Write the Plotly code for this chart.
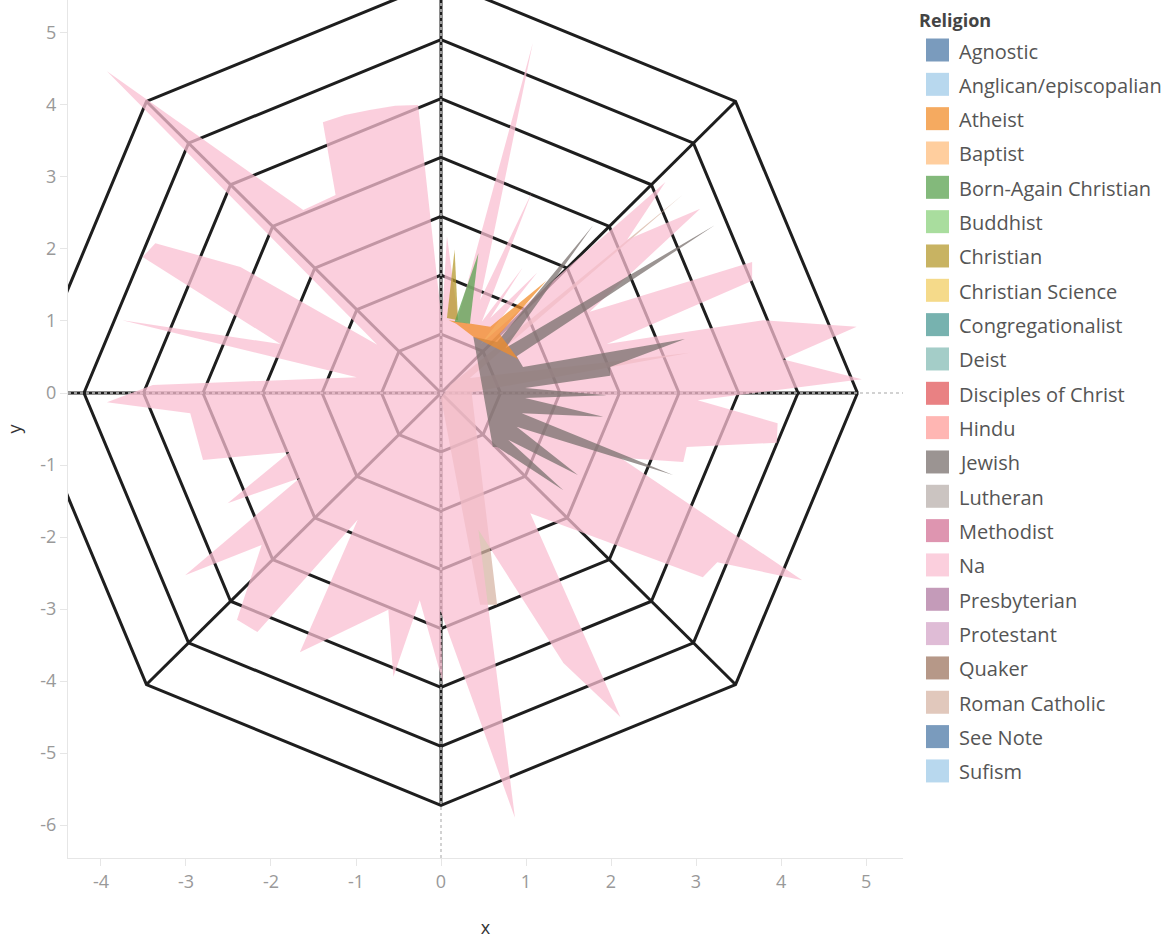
import math
import plotly.graph_objects as go

# ---------------- categories / colours (legend) ----------------
religions = ["Agnostic", "Anglican/episcopalian", "Atheist", "Baptist",
             "Born-Again Christian", "Buddhist", "Christian", "Christian Science",
             "Congregationalist", "Deist", "Disciples of Christ", "Hindu", "Jewish",
             "Lutheran", "Methodist", "Na", "Presbyterian", "Protestant", "Quaker",
             "Roman Catholic", "See Note", "Sufism"]
palette = ["#4E79A7", "#A0CBE8", "#F28E2B", "#FFBE7D", "#59A14F", "#8CD17D",
           "#B6992D", "#F1CE63", "#499894", "#86BCB6", "#E15759", "#FF9D9A",
           "#79706E", "#BAB0AC", "#D37295", "#FABFD2", "#B07AA1", "#D4A6C8",
           "#9D7660", "#D7B5A6", "#4E79A7", "#A0CBE8"]

# ---------------- polygon data (x, y values) ----------------
na_x = [4.95, 4.02, 4.89, 3.79, 1.95, 3.66, 3.66, 1.75, 3.05, 2.19, 2.64, 0.46, 1.13,
        0.58, 0.96, 0.48, 1.07, 0.46, 1.08, 0.20, 0.07, 0.01, -0.27, -0.54, -0.84,
        -1.13, -1.39, -1.24, -1.62, -3.93, -0.75, -2.36, -3.36, -3.51, -1.89, -3.75,
        -0.99, -3.39, -3.93, -2.95, -2.80, -1.78, -2.51, -1.66, -3.01, -2.11, -2.40,
        -2.16, -0.98, -1.66, -0.62, -0.56, -0.25, 0.02, -0.01, 0.87, 0.44, 1.44, 2.11,
        1.05, 3.08, 3.25, 4.25, 2.11, 2.85, 2.89, 3.95, 3.96, 3.02]
na_y = [0.19, 0.47, 0.92, 1.01, 0.68, 1.56, 1.82, 1.13, 2.56, 2.13, 2.93, 0.67, 1.67,
        1.04, 1.74, 0.99, 2.79, 1.29, 4.86, 1.04, 2.18, 0.99, 4.00, 3.99, 3.93,
        3.86, 3.76, 2.75, 2.54, 4.47, 0.67, 1.75, 2.08, 1.89, 0.68, 1.01,
        0.22, 0.11, -0.13, -0.28, -0.93, -0.82, -1.53, -1.18, -2.53, -2.11, -3.15,
        -3.32, -1.76, -3.60, -3.01, -3.94, -2.88, -4.01, -3.01, -5.90, -1.90, -3.75, -4.50,
        -1.67, -2.56, -2.35, -2.60, -0.90, -0.96, -0.75, -0.69, -0.42, -0.10]

jewish_x = [0.38, 0.66, 1.79, 0.76, 3.22, 0.89, 0.965, 2.87, 1.99, 1.99, 0.99, 1.95,
            0.99, 1.91, 0.95, 2.73, 0.89, 1.61, 0.79, 1.44, 0.66, 0.61]
jewish_y = [0.78, 0.71, 2.33, 0.625, 2.33, 0.51, 0.36, 0.75, 0.36, 0.24, 0.07, -0.03,
            -0.07, -0.33, -0.28, -1.14, -0.47, -1.14, -0.65, -1.35, -0.75, -0.75]

atheist_x = [0.09, 0.58, 1.24, 0.69, 0.91, 0.38, 0.18]
atheist_y = [1.01, 0.92, 1.56, 0.82, 0.47, 0.78, 0.96]

born_again_x = [0.16, 0.44, 0.34]
born_again_y = [0.99, 1.94, 0.96]

christian_x = [0.07, 0.16, 0.20]
christian_y = [1.04, 1.99, 1.01]

catholic_x = [0.11, 2.84, 0.34, 2.93, 0.36, 0.66, 0.46, 0.00]
catholic_y = [0.11, 2.75, 0.21, 0.56, 0.01, -2.94, -2.94, -0.07]

# ---------------- radar grid definition ----------------
grid_levels = [1, 2, 3, 4, 5, 6, 7]
level_step_x = 0.70
level_step_y = 0.818
spoke_angles = [0, 45, 90, 135, 180, 225, 270, 315]

x_ticks = [-4, -3, -2, -1, 0, 1, 2, 3, 4, 5]
y_ticks = [-6, -5, -4, -3, -2, -1, 0, 1, 2, 3, 4, 5]
x_range = [-4.388, 5.435]
y_range = [-6.458, 5.458]

FONT = "Open Sans"


def rgba(hx, a):
    hx = hx.lstrip("#")
    return "rgba(%d,%d,%d,%.2f)" % (int(hx[0:2], 16), int(hx[2:4], 16), int(hx[4:6], 16), a)


col = dict(zip(religions, palette))
ALPHA = 0.75

fig = go.Figure()

# grid octagons + spokes
gx, gy = [], []
for L in grid_levels:
    for a in spoke_angles + [spoke_angles[0]]:
        t = math.radians(a)
        gx.append(L * level_step_x * math.cos(t))
        gy.append(L * level_step_y * math.sin(t))
    gx.append(None)
    gy.append(None)
outer = grid_levels[-1]
for a in spoke_angles:
    t = math.radians(a)
    gx += [0, outer * level_step_x * math.cos(t), None]
    gy += [0, outer * level_step_y * math.sin(t), None]
fig.add_trace(go.Scatter(x=gx, y=gy, mode="lines", line=dict(color="#1e1e1e", width=3),
                         hoverinfo="skip", showlegend=False))

# dotted zero lines
fig.add_trace(go.Scatter(x=[x_range[0], x_range[1]], y=[0, 0], mode="lines",
                         line=dict(color="#c4c4c4", width=1.5, dash="dot"),
                         hoverinfo="skip", showlegend=False))
fig.add_trace(go.Scatter(x=[0, 0], y=[y_range[0], y_range[1]], mode="lines",
                         line=dict(color="#c4c4c4", width=1.5, dash="dot"),
                         hoverinfo="skip", showlegend=False))

polys = [("Roman Catholic", catholic_x, catholic_y),
         ("Na", na_x, na_y),
         ("Jewish", jewish_x, jewish_y),
         ("Atheist", atheist_x, atheist_y),
         ("Christian", christian_x, christian_y),
         ("Born-Again Christian", born_again_x, born_again_y)]
for name, xs, ys in polys:
    fig.add_trace(go.Scatter(x=xs + [xs[0]], y=ys + [ys[0]], mode="lines", fill="toself",
                             fillcolor=rgba(col[name], ALPHA), line=dict(width=0, color=rgba(col[name], 0)),
                             name=name, showlegend=False, hoveron="fills"))

# ---------------- manual legend (Tableau style) ----------------
PLOT_L, PLOT_R, PLOT_T, PLOT_B = 68, 903, 0, 858


def px_x(p):
    return (p - PLOT_L) / (PLOT_R - PLOT_L)


def px_y(p):
    return (PLOT_B - p) / (PLOT_B - PLOT_T)


shapes = []
annotations = [dict(x=px_x(917), y=px_y(20), xref="paper", yref="paper", text="<b>Religion</b>",
                    showarrow=False, xanchor="left", yanchor="middle",
                    font=dict(family=FONT, size=18, color="#444444"))]
row0, row_h, sw = 50, 34.33, 23
for i, (name, c) in enumerate(zip(religions, palette)):
    cy = row0 + i * row_h
    shapes.append(dict(type="rect", xref="paper", yref="paper",
                       x0=px_x(926), x1=px_x(926 + sw), y0=px_y(cy + sw / 2), y1=px_y(cy - sw / 2),
                       fillcolor=rgba(c, ALPHA), line=dict(width=0)))
    annotations.append(dict(x=px_x(957), y=px_y(cy + 1), xref="paper", yref="paper", text=name,
                            showarrow=False, xanchor="left", yanchor="middle",
                            font=dict(family=FONT, size=20, color="#555555")))

fig.update_layout(
    width=1174, height=939,
    margin=dict(l=PLOT_L, r=1174 - PLOT_R, t=PLOT_T, b=939 - PLOT_B),
    paper_bgcolor="white", plot_bgcolor="white",
    font=dict(family=FONT, color="#555555"),
    showlegend=False,
    shapes=shapes, annotations=annotations,
    xaxis=dict(range=x_range, tickvals=x_ticks, ticktext=[str(v) for v in x_ticks],
               showgrid=False, zeroline=False, showline=True, linecolor="#e6e6e6",
               ticks="outside", ticklen=7, tickcolor="#e6e6e6",
               tickfont=dict(family=FONT, size=18, color="#999999"),
               title=dict(text="x", font=dict(family=FONT, size=18, color="#333333"), standoff=29)),
    yaxis=dict(range=y_range, tickvals=y_ticks, ticktext=[str(v) for v in y_ticks],
               showgrid=False, zeroline=False, showline=True, linecolor="#e6e6e6",
               ticks="outside", ticklen=7, tickcolor="#e6e6e6",
               tickfont=dict(family=FONT, size=18, color="#999999"),
               title=dict(text="y", font=dict(family=FONT, size=18, color="#333333"), standoff=14)),
)

fig.write_html("out.html", config={"displayModeBar": False},
               post_script="document.body.style.margin='0px';")
